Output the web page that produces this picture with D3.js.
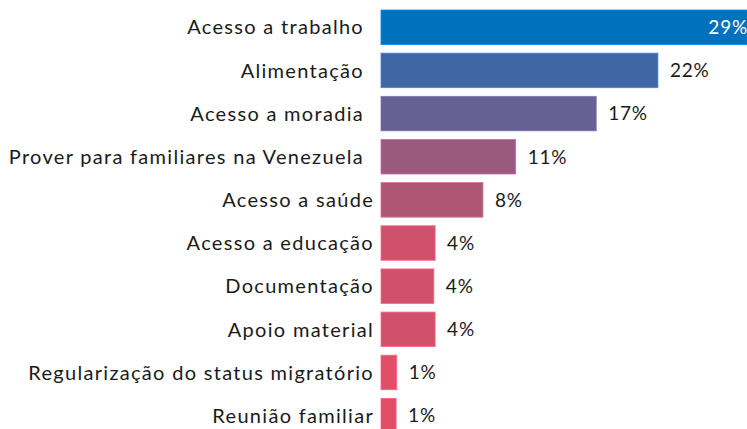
<!DOCTYPE html>
<html>
<head>
<meta charset="utf-8">
<script src="https://cdn.jsdelivr.net/npm/d3@7"></script>
<style>
  html, body { margin: 0; padding: 0; background: #fff; }
  svg { display: block; font-family: Lato, "Noto Sans", sans-serif; }
</style>
</head>
<body>
<svg id="chart" width="747" height="429"></svg>
<script>
// categories, top to bottom
const categories = [
  "Acesso a trabalho",
  "Alimentação",
  "Acesso a moradia",
  "Prover para familiares na Venezuela",
  "Acesso a saúde",
  "Acesso a educação",
  "Documentação",
  "Apoio material",
  "Regularização do status migratório",
  "Reunião familiar"
];

// share of respondents (%)
const values = [29.1, 22.0, 17.1, 10.7, 8.1, 4.3, 4.2, 4.3, 1.25, 1.2];

const valueLabels = ["29%", "22%", "17%", "11%", "8%", "4%", "4%", "4%", "1%", "1%"];

const barColors = [
  "#0071bc", "#3f67a3", "#676093", "#9a5a7e", "#ae5673",
  "#cf516c", "#cf516c", "#cf516c", "#e24e68", "#e24e68"
];

const width = 747, height = 429;
const svg = d3.select("#chart");

const x = d3.scaleLinear()
  .domain([0, 29])
  .range([381, 746]);

const y = d3.scaleBand()
  .domain(categories)
  .range([5.7, 437.2])
  .paddingInner(0.2)
  .paddingOuter(0.1);

const rows = categories.map((c,i) => {
  return { cat: c, value: values[i], label: valueLabels[i], color: barColors[i], i: i };
});

svg.selectAll(".bar")
  .data(rows)
  .enter()
  .append("rect")
  .attr("class","bar")
  .attr("x",x(0))
  .attr("y",d => y(d.cat))
  .attr("width",d => x(d.value) - x(0))
  .attr("height",y.bandwidth())
  .attr("fill",d => d.color)
  .attr("stroke",d => d3.color(d.color).brighter(0.6))
  .attr("stroke-width",0.8);

// category labels; the first four sit a little further left in the original
svg.selectAll(".cat")
  .data(rows)
  .enter()
  .append("text")
  .attr("class","cat")
  .attr("x",d => d.i < 4 ? 364 : 374)
  .attr("y",d => y(d.cat) + y.bandwidth()/2)
  .attr("dy","0.36em")
  .attr("text-anchor","end")
  .attr("font-size",20)
  .attr("letter-spacing",1.3)
  .attr("fill","#1a1a1a")
  .text(d => d.cat);

// value labels, inside the bar when it runs off the edge
const inside = d => x(d.value) + 60 > width;

svg.selectAll(".val")
  .data(rows)
  .enter()
  .append("text")
  .attr("class","val")
  .attr("x",d => inside(d) ? Math.min(x(d.value), width) + 1 : x(d.value) + 12)
  .attr("y",d => y(d.cat) + y.bandwidth()/2)
  .attr("dy","0.36em")
  .attr("text-anchor",d => inside(d) ? "end" : "start")
  .attr("font-size",19)
  .attr("letter-spacing",0.8)
  .attr("fill",d => inside(d) ? "#ffffff" : "#1a1a1a")
  .text(d => d.label);
</script>
</body>
</html>
